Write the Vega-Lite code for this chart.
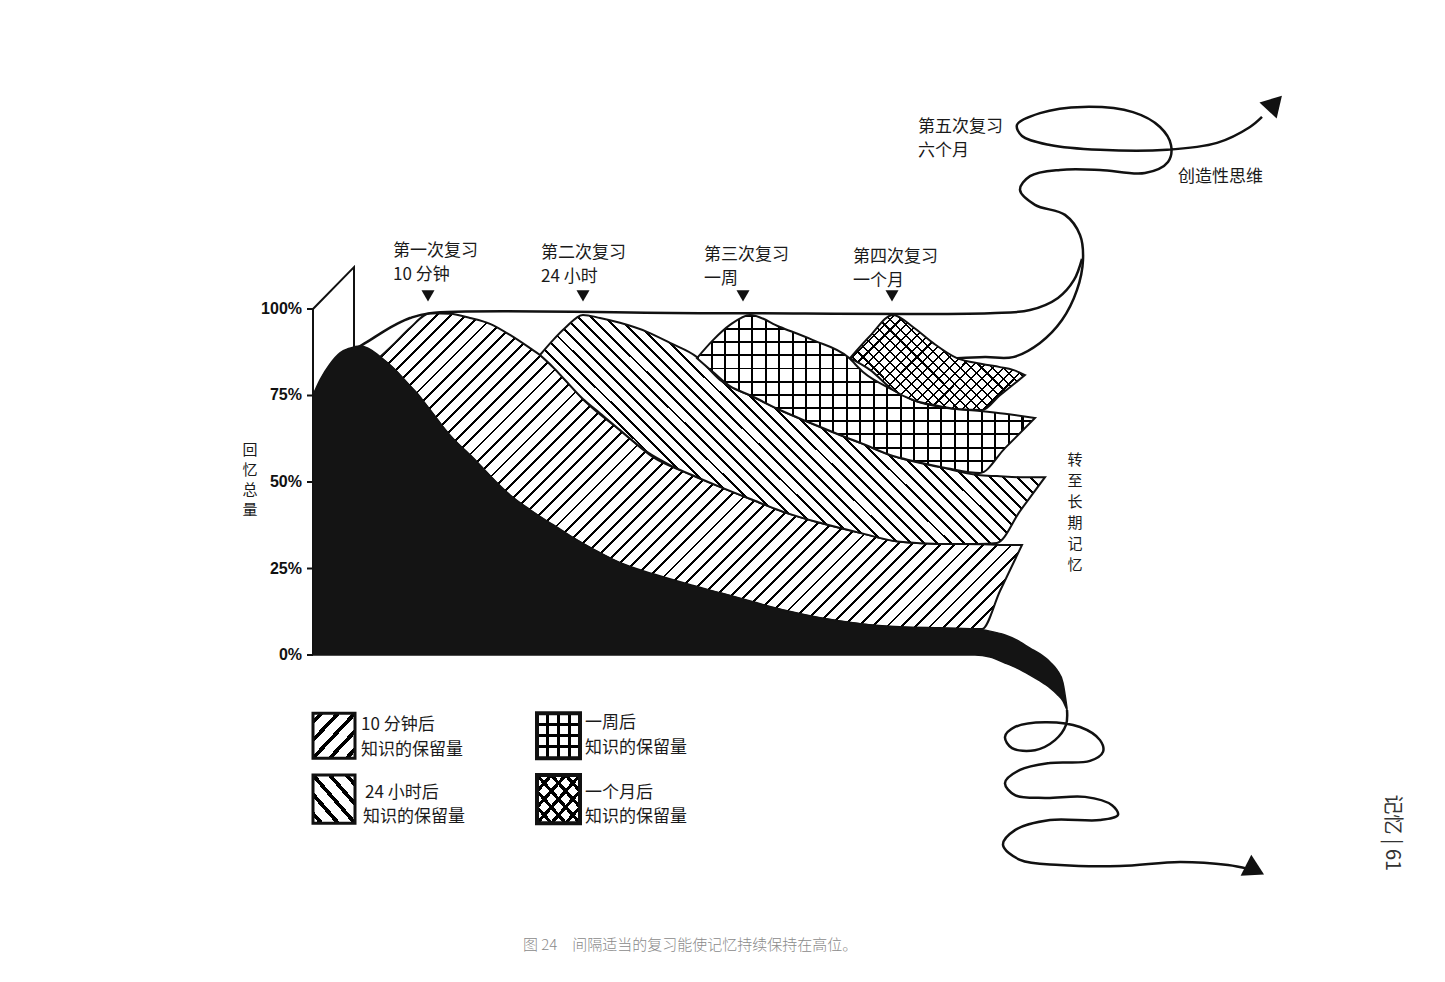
{
"$schema":"https://vega.github.io/schema/vega-lite/v6.json",
"width":1445,"height":982,
"autosize":{"type":"fit","contains":"padding"},
"padding":0,
"background":"#ffffff",
"config":{"view":{"stroke":null},"text":{"font":"Noto Sans CJK SC","color":"#1a1a1a"}},
"datasets":{
"black":[{"x":313,"y":75.1,"y2":0},{"x":320,"y":79.5,"y2":0},{"x":330,"y":84.1,"y2":0},{"x":340,"y":87.3,"y2":0},{"x":350,"y":88.7,"y2":0},{"x":360,"y":89.3,"y2":0},{"x":368,"y":88.7,"y2":0},{"x":377,"y":87.0,"y2":0},{"x":385,"y":85.0,"y2":0},{"x":395,"y":82.4,"y2":0},{"x":405,"y":79.2,"y2":0},{"x":417,"y":75.7,"y2":0},{"x":430,"y":70.8,"y2":0},{"x":443,"y":65.9,"y2":0},{"x":460,"y":60.4,"y2":0},{"x":477,"y":55.8,"y2":0},{"x":495,"y":50.3,"y2":0},{"x":507,"y":46.8,"y2":0},{"x":520,"y":43.9,"y2":0},{"x":545,"y":39.0,"y2":0},{"x":570,"y":34.4,"y2":0},{"x":595,"y":30.3,"y2":0},{"x":620,"y":26.6,"y2":0},{"x":670,"y":21.7,"y2":0},{"x":720,"y":17.9,"y2":0},{"x":770,"y":13.9,"y2":0},{"x":820,"y":10.7,"y2":0},{"x":870,"y":8.7,"y2":0},{"x":920,"y":7.8,"y2":0},{"x":975,"y":7.5,"y2":0},{"x":990,"y":6.9,"y2":-0.6},{"x":1005,"y":5.8,"y2":-2.3},{"x":1017,"y":4.3,"y2":-3.8},{"x":1030,"y":2.0,"y2":-5.8},{"x":1040,"y":0.3,"y2":-7.5},{"x":1050,"y":-2.0,"y2":-9.5},{"x":1057,"y":-4.3,"y2":-11.3},{"x":1063,"y":-8.1,"y2":-13.3},{"x":1067,"y":-15.3,"y2":-15.9}],
"b10":[{"x":380,"y":86.1,"y2":86.1},{"x":395,"y":90.2,"y2":82.4},{"x":410,"y":94.5,"y2":77.7},{"x":430,"y":98.8,"y2":70.8},{"x":450,"y":98.6,"y2":63.3},{"x":470,"y":97.4,"y2":57.8},{"x":490,"y":95.7,"y2":51.7},{"x":510,"y":92.5,"y2":46.2},{"x":530,"y":88.7,"y2":41.9},{"x":540,"y":86.7,"y2":39.9},{"x":553,"y":83.2,"y2":37.6},{"x":570,"y":78.0,"y2":34.4},{"x":587,"y":72.8,"y2":31.5},{"x":620,"y":65.0,"y2":26.6},{"x":653,"y":57.2,"y2":23.4},{"x":687,"y":52.6,"y2":20.5},{"x":720,"y":48.6,"y2":17.9},{"x":753,"y":44.8,"y2":15.3},{"x":787,"y":41.0,"y2":12.7},{"x":820,"y":38.2,"y2":10.7},{"x":860,"y":35.3,"y2":9.0},{"x":900,"y":32.7,"y2":8.1},{"x":940,"y":32.1,"y2":7.8},{"x":982,"y":32.0,"y2":7.5},{"x":1000,"y":31.8,"y2":18.5},{"x":1022,"y":31.8,"y2":31.8}],
"b24":[{"x":540,"y":86.7,"y2":86.7},{"x":553,"y":91.0,"y2":83.2},{"x":565,"y":94.5,"y2":79.5},{"x":583,"y":98.3,"y2":74.0},{"x":600,"y":97.4,"y2":69.9},{"x":620,"y":96.0,"y2":65.0},{"x":647,"y":93.4,"y2":58.7},{"x":670,"y":90.2,"y2":54.9},{"x":697,"y":86.1,"y2":51.4},{"x":720,"y":79.5,"y2":48.6},{"x":753,"y":74.6,"y2":44.8},{"x":787,"y":69.9,"y2":41.0},{"x":820,"y":65.9,"y2":38.2},{"x":860,"y":61.3,"y2":35.3},{"x":900,"y":56.9,"y2":32.7},{"x":940,"y":54.3,"y2":32.1},{"x":978,"y":52.0,"y2":32.1},{"x":997,"y":51.7,"y2":32.4},{"x":1020,"y":51.4,"y2":41.6},{"x":1045,"y":51.4,"y2":51.4}],
"b1w":[{"x":697,"y":85.8,"y2":85.8},{"x":713,"y":91.0,"y2":81.8},{"x":730,"y":95.4,"y2":77.7},{"x":750,"y":98.3,"y2":75.1},{"x":780,"y":94.8,"y2":70.8},{"x":813,"y":91.0,"y2":66.8},{"x":848,"y":86.1,"y2":62.7},{"x":863,"y":81.8,"y2":61.0},{"x":893,"y":76.6,"y2":57.5},{"x":913,"y":73.7,"y2":56.1},{"x":947,"y":71.4,"y2":54.0},{"x":980,"y":70.5,"y2":52.6},{"x":1005,"y":69.7,"y2":59.8},{"x":1035,"y":68.5,"y2":68.5}],
"b1m":[{"x":850,"y":85.8,"y2":85.8},{"x":870,"y":92.2,"y2":82.4},{"x":893,"y":98.3,"y2":76.6},{"x":913,"y":94.8,"y2":73.7},{"x":933,"y":90.2,"y2":72.3},{"x":957,"y":85.8,"y2":71.1},{"x":982,"y":84.1,"y2":70.8},{"x":1000,"y":83.2,"y2":75.1},{"x":1013,"y":82.4,"y2":78.1},{"x":1025,"y":80.9,"y2":80.9}],
"paths":[
{"s":"box","i":1,"x":313,"y":75.1},{"s":"box","i":2,"x":313,"y":100},{"s":"box","i":3,"x":354,"y":112.1},{"s":"box","i":4,"x":354,"y":89.0},
{"s":"env","i":1,"x":357,"y":88.7},{"s":"env","i":2,"x":370,"y":91.0},{"s":"env","i":3,"x":383,"y":93.4},{"s":"env","i":4,"x":397,"y":95.7},{"s":"env","i":5,"x":410,"y":97.4},{"s":"env","i":6,"x":430,"y":98.8},{"s":"env","i":7,"x":700,"y":98.8},{"s":"env","i":8,"x":990,"y":98.8},{"s":"env","i":9,"x":1030,"y":99.7},{"s":"env","i":10,"x":1058,"y":103.2},{"s":"env","i":11,"x":1074,"y":108.4},{"s":"env","i":12,"x":1082,"y":114.5},
{"s":"up","i":1,"x":957,"y":85.8},{"s":"up","i":2,"x":985,"y":86.1},{"s":"up","i":3,"x":1013,"y":86.1},{"s":"up","i":4,"x":1040,"y":90.2},{"s":"up","i":5,"x":1062,"y":96.8},{"s":"up","i":6,"x":1077,"y":105.5},{"s":"up","i":7,"x":1083,"y":114.2},{"s":"up","i":8,"x":1080,"y":121.4},{"s":"up","i":9,"x":1065,"y":127.2},{"s":"up","i":10,"x":1035,"y":130.1},{"s":"up","i":11,"x":1020,"y":134.4},{"s":"up","i":12,"x":1030,"y":138.4},{"s":"up","i":13,"x":1060,"y":140.2},{"s":"up","i":14,"x":1100,"y":140.2},{"s":"up","i":15,"x":1145,"y":139.3},{"s":"up","i":16,"x":1168,"y":142.5},{"s":"up","i":17,"x":1171,"y":147.4},{"s":"up","i":18,"x":1160,"y":152.6},{"s":"up","i":19,"x":1133,"y":156.9},{"s":"up","i":20,"x":1083,"y":158.4},{"s":"up","i":21,"x":1040,"y":156.6},{"s":"up","i":22,"x":1017,"y":153.2},{"s":"up","i":23,"x":1022,"y":150.0},{"s":"up","i":24,"x":1050,"y":147.4},{"s":"up","i":25,"x":1100,"y":146.0},{"s":"up","i":26,"x":1167,"y":146.0},{"s":"up","i":27,"x":1217,"y":148.0},{"s":"up","i":28,"x":1250,"y":152.6},{"s":"up","i":29,"x":1262,"y":155.5},
{"s":"down","i":1,"x":1067,"y":-15.9},{"s":"down","i":2,"x":1066,"y":-20.2},{"s":"down","i":3,"x":1055,"y":-24.6},{"s":"down","i":4,"x":1035,"y":-27.5},{"s":"down","i":5,"x":1012,"y":-26.9},{"s":"down","i":6,"x":1005,"y":-23.7},{"s":"down","i":7,"x":1015,"y":-20.8},{"s":"down","i":8,"x":1045,"y":-19.4},{"s":"down","i":9,"x":1080,"y":-20.8},{"s":"down","i":10,"x":1100,"y":-24.6},{"s":"down","i":11,"x":1103,"y":-28.0},{"s":"down","i":12,"x":1090,"y":-30.6},{"s":"down","i":13,"x":1050,"y":-31.2},{"s":"down","i":14,"x":1020,"y":-33.2},{"s":"down","i":15,"x":1005,"y":-37.0},{"s":"down","i":16,"x":1015,"y":-40.5},{"s":"down","i":17,"x":1045,"y":-41.3},{"s":"down","i":18,"x":1085,"y":-41.0},{"s":"down","i":19,"x":1112,"y":-43.4},{"s":"down","i":20,"x":1118,"y":-46.2},{"s":"down","i":21,"x":1100,"y":-47.7},{"s":"down","i":22,"x":1050,"y":-47.7},{"s":"down","i":23,"x":1015,"y":-50.6},{"s":"down","i":24,"x":1003,"y":-54.9},{"s":"down","i":25,"x":1020,"y":-59.2},{"s":"down","i":26,"x":1060,"y":-60.7},{"s":"down","i":27,"x":1120,"y":-61.0},{"s":"down","i":28,"x":1180,"y":-59.8},{"s":"down","i":29,"x":1228,"y":-60.7},{"s":"down","i":30,"x":1248,"y":-61.8}],
"heads":[{"x":1275,"y":159.5,"a":43},{"x":1255,"y":-62.1,"a":117}],
"markers":[{"x":428,"y":103.8},{"x":583,"y":103.8},{"x":743,"y":103.8},{"x":892,"y":103.8}],
"labels":[{"x":393,"y":116.8,"t":"第一次复习"},{"x":393,"y":109.8,"t":"10 分钟"},{"x":541,"y":116.2,"t":"第二次复习"},{"x":541,"y":109.2,"t":"24 小时"},{"x":704,"y":115.6,"t":"第三次复习"},{"x":704,"y":108.7,"t":"一周"},{"x":853,"y":115.0,"t":"第四次复习"},{"x":853,"y":108.1,"t":"一个月"},{"x":918,"y":152.6,"t":"第五次复习"},{"x":918,"y":145.7,"t":"六个月"},{"x":1178,"y":138.1,"t":"创造性思维"},{"x":361,"y":-20.2,"t":"10 分钟后"},{"x":361,"y":-27.5,"t":"知识的保留量"},{"x":365,"y":-39.9,"t":"24 小时后"},{"x":363,"y":-46.8,"t":"知识的保留量"},{"x":585,"y":-19.7,"t":"一周后"},{"x":585,"y":-26.9,"t":"知识的保留量"},{"x":585,"y":-39.9,"t":"一个月后"},{"x":585,"y":-46.8,"t":"知识的保留量"}],
"ticks":[{"x":307,"x2":313,"y":0},{"x":307,"x2":313,"y":25},{"x":307,"x2":313,"y":50},{"x":307,"x2":313,"y":75},{"x":307,"x2":313,"y":100}],
"ticklabels":[{"x":302,"y":0,"t":"0%"},{"x":302,"y":25,"t":"25%"},{"x":302,"y":50,"t":"50%"},{"x":302,"y":75,"t":"75%"},{"x":302,"y":100,"t":"100%"}]
},
"encoding":{
"x":{"field":"x","type":"quantitative","scale":{"domain":[0,1445],"nice":false,"zero":false},"axis":null},
"y":{"field":"y","type":"quantitative","scale":{"domain":[-94.5,189.3],"nice":false,"zero":false},"axis":null}
},
"layer":[
{"data":{"name":"b10"},"mark":{"type":"area","interpolate":"monotone","stroke":"#111","strokeWidth":2,"fill":{"gradient":"linear","x1":0,"y1":0,"x2":1.201,"y2":0.591,"stops":[
{"offset":0,"color":"#000"},{"offset":0.003,"color":"#000"},{"offset":0.003,"color":"#fff"},{"offset":0.015,"color":"#fff"},
{"offset":0.015,"color":"#000"},{"offset":0.018,"color":"#000"},{"offset":0.018,"color":"#fff"},{"offset":0.03,"color":"#fff"},
{"offset":0.03,"color":"#000"},{"offset":0.033,"color":"#000"},{"offset":0.033,"color":"#fff"},{"offset":0.045,"color":"#fff"},
{"offset":0.045,"color":"#000"},{"offset":0.048,"color":"#000"},{"offset":0.048,"color":"#fff"},{"offset":0.06,"color":"#fff"},
{"offset":0.06,"color":"#000"},{"offset":0.063,"color":"#000"},{"offset":0.063,"color":"#fff"},{"offset":0.075,"color":"#fff"},
{"offset":0.075,"color":"#000"},{"offset":0.078,"color":"#000"},{"offset":0.078,"color":"#fff"},{"offset":0.09,"color":"#fff"},
{"offset":0.09,"color":"#000"},{"offset":0.093,"color":"#000"},{"offset":0.093,"color":"#fff"},{"offset":0.105,"color":"#fff"},
{"offset":0.105,"color":"#000"},{"offset":0.108,"color":"#000"},{"offset":0.108,"color":"#fff"},{"offset":0.12,"color":"#fff"},
{"offset":0.12,"color":"#000"},{"offset":0.123,"color":"#000"},{"offset":0.123,"color":"#fff"},{"offset":0.135,"color":"#fff"},
{"offset":0.135,"color":"#000"},{"offset":0.138,"color":"#000"},{"offset":0.138,"color":"#fff"},{"offset":0.15,"color":"#fff"},
{"offset":0.15,"color":"#000"},{"offset":0.153,"color":"#000"},{"offset":0.153,"color":"#fff"},{"offset":0.165,"color":"#fff"},
{"offset":0.165,"color":"#000"},{"offset":0.168,"color":"#000"},{"offset":0.168,"color":"#fff"},{"offset":0.18,"color":"#fff"},
{"offset":0.18,"color":"#000"},{"offset":0.183,"color":"#000"},{"offset":0.183,"color":"#fff"},{"offset":0.195,"color":"#fff"},
{"offset":0.195,"color":"#000"},{"offset":0.198,"color":"#000"},{"offset":0.198,"color":"#fff"},{"offset":0.21,"color":"#fff"},
{"offset":0.21,"color":"#000"},{"offset":0.213,"color":"#000"},{"offset":0.213,"color":"#fff"},{"offset":0.225,"color":"#fff"},
{"offset":0.225,"color":"#000"},{"offset":0.228,"color":"#000"},{"offset":0.228,"color":"#fff"},{"offset":0.24,"color":"#fff"},
{"offset":0.24,"color":"#000"},{"offset":0.243,"color":"#000"},{"offset":0.243,"color":"#fff"},{"offset":0.255,"color":"#fff"},
{"offset":0.255,"color":"#000"},{"offset":0.258,"color":"#000"},{"offset":0.258,"color":"#fff"},{"offset":0.27,"color":"#fff"},
{"offset":0.27,"color":"#000"},{"offset":0.273,"color":"#000"},{"offset":0.273,"color":"#fff"},{"offset":0.285,"color":"#fff"},
{"offset":0.285,"color":"#000"},{"offset":0.288,"color":"#000"},{"offset":0.288,"color":"#fff"},{"offset":0.3,"color":"#fff"},
{"offset":0.3,"color":"#000"},{"offset":0.303,"color":"#000"},{"offset":0.303,"color":"#fff"},{"offset":0.315,"color":"#fff"},
{"offset":0.315,"color":"#000"},{"offset":0.318,"color":"#000"},{"offset":0.318,"color":"#fff"},{"offset":0.33,"color":"#fff"},
{"offset":0.33,"color":"#000"},{"offset":0.333,"color":"#000"},{"offset":0.333,"color":"#fff"},{"offset":0.345,"color":"#fff"},
{"offset":0.345,"color":"#000"},{"offset":0.348,"color":"#000"},{"offset":0.348,"color":"#fff"},{"offset":0.36,"color":"#fff"},
{"offset":0.36,"color":"#000"},{"offset":0.363,"color":"#000"},{"offset":0.363,"color":"#fff"},{"offset":0.375,"color":"#fff"},
{"offset":0.375,"color":"#000"},{"offset":0.378,"color":"#000"},{"offset":0.378,"color":"#fff"},{"offset":0.39,"color":"#fff"},
{"offset":0.39,"color":"#000"},{"offset":0.393,"color":"#000"},{"offset":0.393,"color":"#fff"},{"offset":0.405,"color":"#fff"},
{"offset":0.405,"color":"#000"},{"offset":0.408,"color":"#000"},{"offset":0.408,"color":"#fff"},{"offset":0.42,"color":"#fff"},
{"offset":0.42,"color":"#000"},{"offset":0.423,"color":"#000"},{"offset":0.423,"color":"#fff"},{"offset":0.435,"color":"#fff"},
{"offset":0.435,"color":"#000"},{"offset":0.438,"color":"#000"},{"offset":0.438,"color":"#fff"},{"offset":0.45,"color":"#fff"},
{"offset":0.45,"color":"#000"},{"offset":0.453,"color":"#000"},{"offset":0.453,"color":"#fff"},{"offset":0.465,"color":"#fff"},
{"offset":0.465,"color":"#000"},{"offset":0.468,"color":"#000"},{"offset":0.468,"color":"#fff"},{"offset":0.48,"color":"#fff"},
{"offset":0.48,"color":"#000"},{"offset":0.483,"color":"#000"},{"offset":0.483,"color":"#fff"},{"offset":0.495,"color":"#fff"},
{"offset":0.495,"color":"#000"},{"offset":0.498,"color":"#000"},{"offset":0.498,"color":"#fff"},{"offset":0.51,"color":"#fff"},
{"offset":0.51,"color":"#000"},{"offset":0.513,"color":"#000"},{"offset":0.513,"color":"#fff"},{"offset":0.525,"color":"#fff"},
{"offset":0.525,"color":"#000"},{"offset":0.528,"color":"#000"},{"offset":0.528,"color":"#fff"},{"offset":0.54,"color":"#fff"},
{"offset":0.54,"color":"#000"},{"offset":0.543,"color":"#000"},{"offset":0.543,"color":"#fff"},{"offset":0.555,"color":"#fff"},
{"offset":0.555,"color":"#000"},{"offset":0.558,"color":"#000"},{"offset":0.558,"color":"#fff"},{"offset":0.57,"color":"#fff"},
{"offset":0.57,"color":"#000"},{"offset":0.573,"color":"#000"},{"offset":0.573,"color":"#fff"},{"offset":0.585,"color":"#fff"},
{"offset":0.585,"color":"#000"},{"offset":0.588,"color":"#000"},{"offset":0.588,"color":"#fff"},{"offset":0.6,"color":"#fff"},
{"offset":0.6,"color":"#000"},{"offset":0.603,"color":"#000"},{"offset":0.603,"color":"#fff"},{"offset":0.615,"color":"#fff"},
{"offset":0.615,"color":"#000"},{"offset":0.618,"color":"#000"},{"offset":0.618,"color":"#fff"},{"offset":0.63,"color":"#fff"},
{"offset":0.63,"color":"#000"},{"offset":0.633,"color":"#000"},{"offset":0.633,"color":"#fff"},{"offset":0.645,"color":"#fff"},
{"offset":0.645,"color":"#000"},{"offset":0.648,"color":"#000"},{"offset":0.648,"color":"#fff"},{"offset":0.66,"color":"#fff"},
{"offset":0.66,"color":"#000"},{"offset":0.663,"color":"#000"},{"offset":0.663,"color":"#fff"},{"offset":0.675,"color":"#fff"},
{"offset":0.675,"color":"#000"},{"offset":0.678,"color":"#000"},{"offset":0.678,"color":"#fff"},{"offset":0.69,"color":"#fff"},
{"offset":0.69,"color":"#000"},{"offset":0.693,"color":"#000"},{"offset":0.693,"color":"#fff"},{"offset":0.705,"color":"#fff"},
{"offset":0.705,"color":"#000"},{"offset":0.708,"color":"#000"},{"offset":0.708,"color":"#fff"},{"offset":0.72,"color":"#fff"},
{"offset":0.72,"color":"#000"},{"offset":0.723,"color":"#000"},{"offset":0.723,"color":"#fff"},{"offset":0.735,"color":"#fff"},
{"offset":0.735,"color":"#000"},{"offset":0.738,"color":"#000"},{"offset":0.738,"color":"#fff"},{"offset":0.75,"color":"#fff"},
{"offset":0.75,"color":"#000"},{"offset":0.753,"color":"#000"},{"offset":0.753,"color":"#fff"},{"offset":0.765,"color":"#fff"},
{"offset":0.765,"color":"#000"},{"offset":0.768,"color":"#000"},{"offset":0.768,"color":"#fff"},{"offset":0.78,"color":"#fff"},
{"offset":0.78,"color":"#000"},{"offset":0.783,"color":"#000"},{"offset":0.783,"color":"#fff"},{"offset":0.795,"color":"#fff"},
{"offset":0.795,"color":"#000"},{"offset":0.798,"color":"#000"},{"offset":0.798,"color":"#fff"},{"offset":0.81,"color":"#fff"},
{"offset":0.81,"color":"#000"},{"offset":0.813,"color":"#000"},{"offset":0.813,"color":"#fff"},{"offset":0.825,"color":"#fff"},
{"offset":0.825,"color":"#000"},{"offset":0.828,"color":"#000"},{"offset":0.828,"color":"#fff"},{"offset":0.84,"color":"#fff"},
{"offset":0.84,"color":"#000"},{"offset":0.843,"color":"#000"},{"offset":0.843,"color":"#fff"},{"offset":0.855,"color":"#fff"},
{"offset":0.855,"color":"#000"},{"offset":0.858,"color":"#000"},{"offset":0.858,"color":"#fff"},{"offset":0.87,"color":"#fff"},
{"offset":0.87,"color":"#000"},{"offset":0.873,"color":"#000"},{"offset":0.873,"color":"#fff"},{"offset":0.885,"color":"#fff"},
{"offset":0.885,"color":"#000"},{"offset":0.888,"color":"#000"},{"offset":0.888,"color":"#fff"},{"offset":0.9,"color":"#fff"},
{"offset":0.9,"color":"#000"},{"offset":0.903,"color":"#000"},{"offset":0.903,"color":"#fff"},{"offset":0.915,"color":"#fff"},
{"offset":0.915,"color":"#000"},{"offset":0.918,"color":"#000"},{"offset":0.918,"color":"#fff"},{"offset":0.93,"color":"#fff"},
{"offset":0.93,"color":"#000"},{"offset":0.933,"color":"#000"},{"offset":0.933,"color":"#fff"},{"offset":0.945,"color":"#fff"},
{"offset":0.945,"color":"#000"},{"offset":0.948,"color":"#000"},{"offset":0.948,"color":"#fff"},{"offset":0.96,"color":"#fff"},
{"offset":0.96,"color":"#000"},{"offset":0.963,"color":"#000"},{"offset":0.963,"color":"#fff"},{"offset":0.975,"color":"#fff"},
{"offset":0.975,"color":"#000"},{"offset":0.978,"color":"#000"},{"offset":0.978,"color":"#fff"},{"offset":0.99,"color":"#fff"},
{"offset":0.99,"color":"#000"},{"offset":0.993,"color":"#000"},{"offset":0.993,"color":"#fff"},{"offset":1,"color":"#fff"}]}},
"encoding":{"y2":{"field":"y2"}}},
{"data":{"name":"b24"},"mark":{"type":"area","interpolate":"monotone","stroke":"#111","strokeWidth":2,"fill":{"gradient":"linear","x1":0,"y1":1,"x2":1.205,"y2":0.451,"stops":[
{"offset":0,"color":"#000"},{"offset":0.004,"color":"#000"},{"offset":0.004,"color":"#fff"},{"offset":0.018,"color":"#fff"},
{"offset":0.018,"color":"#000"},{"offset":0.022,"color":"#000"},{"offset":0.022,"color":"#fff"},{"offset":0.036,"color":"#fff"},
{"offset":0.036,"color":"#000"},{"offset":0.04,"color":"#000"},{"offset":0.04,"color":"#fff"},{"offset":0.054,"color":"#fff"},
{"offset":0.054,"color":"#000"},{"offset":0.058,"color":"#000"},{"offset":0.058,"color":"#fff"},{"offset":0.072,"color":"#fff"},
{"offset":0.072,"color":"#000"},{"offset":0.076,"color":"#000"},{"offset":0.076,"color":"#fff"},{"offset":0.09,"color":"#fff"},
{"offset":0.09,"color":"#000"},{"offset":0.094,"color":"#000"},{"offset":0.094,"color":"#fff"},{"offset":0.108,"color":"#fff"},
{"offset":0.108,"color":"#000"},{"offset":0.112,"color":"#000"},{"offset":0.112,"color":"#fff"},{"offset":0.126,"color":"#fff"},
{"offset":0.126,"color":"#000"},{"offset":0.13,"color":"#000"},{"offset":0.13,"color":"#fff"},{"offset":0.144,"color":"#fff"},
{"offset":0.144,"color":"#000"},{"offset":0.148,"color":"#000"},{"offset":0.148,"color":"#fff"},{"offset":0.162,"color":"#fff"},
{"offset":0.162,"color":"#000"},{"offset":0.166,"color":"#000"},{"offset":0.166,"color":"#fff"},{"offset":0.18,"color":"#fff"},
{"offset":0.18,"color":"#000"},{"offset":0.184,"color":"#000"},{"offset":0.184,"color":"#fff"},{"offset":0.198,"color":"#fff"},
{"offset":0.198,"color":"#000"},{"offset":0.202,"color":"#000"},{"offset":0.202,"color":"#fff"},{"offset":0.216,"color":"#fff"},
{"offset":0.216,"color":"#000"},{"offset":0.22,"color":"#000"},{"offset":0.22,"color":"#fff"},{"offset":0.234,"color":"#fff"},
{"offset":0.234,"color":"#000"},{"offset":0.238,"color":"#000"},{"offset":0.238,"color":"#fff"},{"offset":0.252,"color":"#fff"},
{"offset":0.252,"color":"#000"},{"offset":0.256,"color":"#000"},{"offset":0.256,"color":"#fff"},{"offset":0.27,"color":"#fff"},
{"offset":0.27,"color":"#000"},{"offset":0.274,"color":"#000"},{"offset":0.274,"color":"#fff"},{"offset":0.288,"color":"#fff"},
{"offset":0.288,"color":"#000"},{"offset":0.292,"color":"#000"},{"offset":0.292,"color":"#fff"},{"offset":0.306,"color":"#fff"},
{"offset":0.306,"color":"#000"},{"offset":0.31,"color":"#000"},{"offset":0.31,"color":"#fff"},{"offset":0.324,"color":"#fff"},
{"offset":0.324,"color":"#000"},{"offset":0.328,"color":"#000"},{"offset":0.328,"color":"#fff"},{"offset":0.342,"color":"#fff"},
{"offset":0.342,"color":"#000"},{"offset":0.346,"color":"#000"},{"offset":0.346,"color":"#fff"},{"offset":0.36,"color":"#fff"},
{"offset":0.36,"color":"#000"},{"offset":0.364,"color":"#000"},{"offset":0.364,"color":"#fff"},{"offset":0.378,"color":"#fff"},
{"offset":0.378,"color":"#000"},{"offset":0.382,"color":"#000"},{"offset":0.382,"color":"#fff"},{"offset":0.396,"color":"#fff"},
{"offset":0.396,"color":"#000"},{"offset":0.4,"color":"#000"},{"offset":0.4,"color":"#fff"},{"offset":0.414,"color":"#fff"},
{"offset":0.414,"color":"#000"},{"offset":0.418,"color":"#000"},{"offset":0.418,"color":"#fff"},{"offset":0.432,"color":"#fff"},
{"offset":0.432,"color":"#000"},{"offset":0.436,"color":"#000"},{"offset":0.436,"color":"#fff"},{"offset":0.45,"color":"#fff"},
{"offset":0.45,"color":"#000"},{"offset":0.454,"color":"#000"},{"offset":0.454,"color":"#fff"},{"offset":0.468,"color":"#fff"},
{"offset":0.468,"color":"#000"},{"offset":0.472,"color":"#000"},{"offset":0.472,"color":"#fff"},{"offset":0.486,"color":"#fff"},
{"offset":0.486,"color":"#000"},{"offset":0.49,"color":"#000"},{"offset":0.49,"color":"#fff"},{"offset":0.504,"color":"#fff"},
{"offset":0.504,"color":"#000"},{"offset":0.508,"color":"#000"},{"offset":0.508,"color":"#fff"},{"offset":0.522,"color":"#fff"},
{"offset":0.522,"color":"#000"},{"offset":0.526,"color":"#000"},{"offset":0.526,"color":"#fff"},{"offset":0.54,"color":"#fff"},
{"offset":0.54,"color":"#000"},{"offset":0.544,"color":"#000"},{"offset":0.544,"color":"#fff"},{"offset":0.558,"color":"#fff"},
{"offset":0.558,"color":"#000"},{"offset":0.562,"color":"#000"},{"offset":0.562,"color":"#fff"},{"offset":0.576,"color":"#fff"},
{"offset":0.576,"color":"#000"},{"offset":0.58,"color":"#000"},{"offset":0.58,"color":"#fff"},{"offset":0.594,"color":"#fff"},
{"offset":0.594,"color":"#000"},{"offset":0.598,"color":"#000"},{"offset":0.598,"color":"#fff"},{"offset":0.612,"color":"#fff"},
{"offset":0.612,"color":"#000"},{"offset":0.616,"color":"#000"},{"offset":0.616,"color":"#fff"},{"offset":0.63,"color":"#fff"},
{"offset":0.63,"color":"#000"},{"offset":0.634,"color":"#000"},{"offset":0.634,"color":"#fff"},{"offset":0.648,"color":"#fff"},
{"offset":0.648,"color":"#000"},{"offset":0.652,"color":"#000"},{"offset":0.652,"color":"#fff"},{"offset":0.666,"color":"#fff"},
{"offset":0.666,"color":"#000"},{"offset":0.67,"color":"#000"},{"offset":0.67,"color":"#fff"},{"offset":0.684,"color":"#fff"},
{"offset":0.684,"color":"#000"},{"offset":0.688,"color":"#000"},{"offset":0.688,"color":"#fff"},{"offset":0.702,"color":"#fff"},
{"offset":0.702,"color":"#000"},{"offset":0.706,"color":"#000"},{"offset":0.706,"color":"#fff"},{"offset":0.72,"color":"#fff"},
{"offset":0.72,"color":"#000"},{"offset":0.724,"color":"#000"},{"offset":0.724,"color":"#fff"},{"offset":0.738,"color":"#fff"},
{"offset":0.738,"color":"#000"},{"offset":0.742,"color":"#000"},{"offset":0.742,"color":"#fff"},{"offset":0.756,"color":"#fff"},
{"offset":0.756,"color":"#000"},{"offset":0.76,"color":"#000"},{"offset":0.76,"color":"#fff"},{"offset":0.774,"color":"#fff"},
{"offset":0.774,"color":"#000"},{"offset":0.778,"color":"#000"},{"offset":0.778,"color":"#fff"},{"offset":0.792,"color":"#fff"},
{"offset":0.792,"color":"#000"},{"offset":0.796,"color":"#000"},{"offset":0.796,"color":"#fff"},{"offset":0.81,"color":"#fff"},
{"offset":0.81,"color":"#000"},{"offset":0.814,"color":"#000"},{"offset":0.814,"color":"#fff"},{"offset":0.828,"color":"#fff"},
{"offset":0.828,"color":"#000"},{"offset":0.832,"color":"#000"},{"offset":0.832,"color":"#fff"},{"offset":0.846,"color":"#fff"},
{"offset":0.846,"color":"#000"},{"offset":0.85,"color":"#000"},{"offset":0.85,"color":"#fff"},{"offset":0.864,"color":"#fff"},
{"offset":0.864,"color":"#000"},{"offset":0.868,"color":"#000"},{"offset":0.868,"color":"#fff"},{"offset":0.882,"color":"#fff"},
{"offset":0.882,"color":"#000"},{"offset":0.886,"color":"#000"},{"offset":0.886,"color":"#fff"},{"offset":0.9,"color":"#fff"},
{"offset":0.9,"color":"#000"},{"offset":0.904,"color":"#000"},{"offset":0.904,"color":"#fff"},{"offset":0.918,"color":"#fff"},
{"offset":0.918,"color":"#000"},{"offset":0.922,"color":"#000"},{"offset":0.922,"color":"#fff"},{"offset":0.936,"color":"#fff"},
{"offset":0.936,"color":"#000"},{"offset":0.94,"color":"#000"},{"offset":0.94,"color":"#fff"},{"offset":0.954,"color":"#fff"},
{"offset":0.954,"color":"#000"},{"offset":0.958,"color":"#000"},{"offset":0.958,"color":"#fff"},{"offset":0.972,"color":"#fff"},
{"offset":0.972,"color":"#000"},{"offset":0.976,"color":"#000"},{"offset":0.976,"color":"#fff"},{"offset":0.99,"color":"#fff"},
{"offset":0.99,"color":"#000"},{"offset":0.994,"color":"#000"},{"offset":0.994,"color":"#fff"},{"offset":1,"color":"#fff"}]}},
"encoding":{"y2":{"field":"y2"}}},
{"data":{"name":"b1w"},"mark":{"type":"area","interpolate":"monotone","fill":{"gradient":"linear","x1":0,"y1":0,"x2":0,"y2":1,"stops":[
{"offset":0,"color":"#000"},{"offset":0.012,"color":"#000"},{"offset":0.012,"color":"#fff"},{"offset":0.0833,"color":"#fff"},
{"offset":0.0833,"color":"#000"},{"offset":0.0953,"color":"#000"},{"offset":0.0953,"color":"#fff"},{"offset":0.1667,"color":"#fff"},
{"offset":0.1667,"color":"#000"},{"offset":0.1787,"color":"#000"},{"offset":0.1787,"color":"#fff"},{"offset":0.25,"color":"#fff"},
{"offset":0.25,"color":"#000"},{"offset":0.262,"color":"#000"},{"offset":0.262,"color":"#fff"},{"offset":0.3333,"color":"#fff"},
{"offset":0.3333,"color":"#000"},{"offset":0.3453,"color":"#000"},{"offset":0.3453,"color":"#fff"},{"offset":0.4167,"color":"#fff"},
{"offset":0.4167,"color":"#000"},{"offset":0.4287,"color":"#000"},{"offset":0.4287,"color":"#fff"},{"offset":0.5,"color":"#fff"},
{"offset":0.5,"color":"#000"},{"offset":0.512,"color":"#000"},{"offset":0.512,"color":"#fff"},{"offset":0.5833,"color":"#fff"},
{"offset":0.5833,"color":"#000"},{"offset":0.5953,"color":"#000"},{"offset":0.5953,"color":"#fff"},{"offset":0.6667,"color":"#fff"},
{"offset":0.6667,"color":"#000"},{"offset":0.6787,"color":"#000"},{"offset":0.6787,"color":"#fff"},{"offset":0.75,"color":"#fff"},
{"offset":0.75,"color":"#000"},{"offset":0.762,"color":"#000"},{"offset":0.762,"color":"#fff"},{"offset":0.8333,"color":"#fff"},
{"offset":0.8333,"color":"#000"},{"offset":0.8453,"color":"#000"},{"offset":0.8453,"color":"#fff"},{"offset":0.9167,"color":"#fff"},
{"offset":0.9167,"color":"#000"},{"offset":0.9287,"color":"#000"},{"offset":0.9287,"color":"#fff"},{"offset":1,"color":"#fff"}]}},
"encoding":{"y2":{"field":"y2"}}},
{"data":{"name":"b1w"},"mark":{"type":"area","interpolate":"monotone","stroke":"#111","strokeWidth":2,"fill":{"gradient":"linear","x1":0,"y1":0,"x2":1,"y2":0,"stops":[
{"offset":0,"color":"#000"},{"offset":0.006,"color":"#000"},{"offset":0.006,"color":"rgba(0,0,0,0)"},{"offset":0.04,"color":"rgba(0,0,0,0)"},
{"offset":0.04,"color":"#000"},{"offset":0.046,"color":"#000"},{"offset":0.046,"color":"rgba(0,0,0,0)"},{"offset":0.08,"color":"rgba(0,0,0,0)"},
{"offset":0.08,"color":"#000"},{"offset":0.086,"color":"#000"},{"offset":0.086,"color":"rgba(0,0,0,0)"},{"offset":0.12,"color":"rgba(0,0,0,0)"},
{"offset":0.12,"color":"#000"},{"offset":0.126,"color":"#000"},{"offset":0.126,"color":"rgba(0,0,0,0)"},{"offset":0.16,"color":"rgba(0,0,0,0)"},
{"offset":0.16,"color":"#000"},{"offset":0.166,"color":"#000"},{"offset":0.166,"color":"rgba(0,0,0,0)"},{"offset":0.2,"color":"rgba(0,0,0,0)"},
{"offset":0.2,"color":"#000"},{"offset":0.206,"color":"#000"},{"offset":0.206,"color":"rgba(0,0,0,0)"},{"offset":0.24,"color":"rgba(0,0,0,0)"},
{"offset":0.24,"color":"#000"},{"offset":0.246,"color":"#000"},{"offset":0.246,"color":"rgba(0,0,0,0)"},{"offset":0.28,"color":"rgba(0,0,0,0)"},
{"offset":0.28,"color":"#000"},{"offset":0.286,"color":"#000"},{"offset":0.286,"color":"rgba(0,0,0,0)"},{"offset":0.32,"color":"rgba(0,0,0,0)"},
{"offset":0.32,"color":"#000"},{"offset":0.326,"color":"#000"},{"offset":0.326,"color":"rgba(0,0,0,0)"},{"offset":0.36,"color":"rgba(0,0,0,0)"},
{"offset":0.36,"color":"#000"},{"offset":0.366,"color":"#000"},{"offset":0.366,"color":"rgba(0,0,0,0)"},{"offset":0.4,"color":"rgba(0,0,0,0)"},
{"offset":0.4,"color":"#000"},{"offset":0.406,"color":"#000"},{"offset":0.406,"color":"rgba(0,0,0,0)"},{"offset":0.44,"color":"rgba(0,0,0,0)"},
{"offset":0.44,"color":"#000"},{"offset":0.446,"color":"#000"},{"offset":0.446,"color":"rgba(0,0,0,0)"},{"offset":0.48,"color":"rgba(0,0,0,0)"},
{"offset":0.48,"color":"#000"},{"offset":0.486,"color":"#000"},{"offset":0.486,"color":"rgba(0,0,0,0)"},{"offset":0.52,"color":"rgba(0,0,0,0)"},
{"offset":0.52,"color":"#000"},{"offset":0.526,"color":"#000"},{"offset":0.526,"color":"rgba(0,0,0,0)"},{"offset":0.56,"color":"rgba(0,0,0,0)"},
{"offset":0.56,"color":"#000"},{"offset":0.566,"color":"#000"},{"offset":0.566,"color":"rgba(0,0,0,0)"},{"offset":0.6,"color":"rgba(0,0,0,0)"},
{"offset":0.6,"color":"#000"},{"offset":0.606,"color":"#000"},{"offset":0.606,"color":"rgba(0,0,0,0)"},{"offset":0.64,"color":"rgba(0,0,0,0)"},
{"offset":0.64,"color":"#000"},{"offset":0.646,"color":"#000"},{"offset":0.646,"color":"rgba(0,0,0,0)"},{"offset":0.68,"color":"rgba(0,0,0,0)"},
{"offset":0.68,"color":"#000"},{"offset":0.686,"color":"#000"},{"offset":0.686,"color":"rgba(0,0,0,0)"},{"offset":0.72,"color":"rgba(0,0,0,0)"},
{"offset":0.72,"color":"#000"},{"offset":0.726,"color":"#000"},{"offset":0.726,"color":"rgba(0,0,0,0)"},{"offset":0.76,"color":"rgba(0,0,0,0)"},
{"offset":0.76,"color":"#000"},{"offset":0.766,"color":"#000"},{"offset":0.766,"color":"rgba(0,0,0,0)"},{"offset":0.8,"color":"rgba(0,0,0,0)"},
{"offset":0.8,"color":"#000"},{"offset":0.806,"color":"#000"},{"offset":0.806,"color":"rgba(0,0,0,0)"},{"offset":0.84,"color":"rgba(0,0,0,0)"},
{"offset":0.84,"color":"#000"},{"offset":0.846,"color":"#000"},{"offset":0.846,"color":"rgba(0,0,0,0)"},{"offset":0.88,"color":"rgba(0,0,0,0)"},
{"offset":0.88,"color":"#000"},{"offset":0.886,"color":"#000"},{"offset":0.886,"color":"rgba(0,0,0,0)"},{"offset":0.92,"color":"rgba(0,0,0,0)"},
{"offset":0.92,"color":"#000"},{"offset":0.926,"color":"#000"},{"offset":0.926,"color":"rgba(0,0,0,0)"},{"offset":0.96,"color":"rgba(0,0,0,0)"},
{"offset":0.96,"color":"#000"},{"offset":0.966,"color":"#000"},{"offset":0.966,"color":"rgba(0,0,0,0)"},{"offset":1,"color":"rgba(0,0,0,0)"}]}},
"encoding":{"y2":{"field":"y2"}}},
{"data":{"name":"b1m"},"mark":{"type":"area","interpolate":"monotone","fill":{"gradient":"linear","x1":0,"y1":0,"x2":1.192,"y2":0.647,"stops":[
{"offset":0,"color":"#000"},{"offset":0.008,"color":"#000"},{"offset":0.008,"color":"#fff"},{"offset":0.04,"color":"#fff"},
{"offset":0.04,"color":"#000"},{"offset":0.048,"color":"#000"},{"offset":0.048,"color":"#fff"},{"offset":0.08,"color":"#fff"},
{"offset":0.08,"color":"#000"},{"offset":0.088,"color":"#000"},{"offset":0.088,"color":"#fff"},{"offset":0.12,"color":"#fff"},
{"offset":0.12,"color":"#000"},{"offset":0.128,"color":"#000"},{"offset":0.128,"color":"#fff"},{"offset":0.16,"color":"#fff"},
{"offset":0.16,"color":"#000"},{"offset":0.168,"color":"#000"},{"offset":0.168,"color":"#fff"},{"offset":0.2,"color":"#fff"},
{"offset":0.2,"color":"#000"},{"offset":0.208,"color":"#000"},{"offset":0.208,"color":"#fff"},{"offset":0.24,"color":"#fff"},
{"offset":0.24,"color":"#000"},{"offset":0.248,"color":"#000"},{"offset":0.248,"color":"#fff"},{"offset":0.28,"color":"#fff"},
{"offset":0.28,"color":"#000"},{"offset":0.288,"color":"#000"},{"offset":0.288,"color":"#fff"},{"offset":0.32,"color":"#fff"},
{"offset":0.32,"color":"#000"},{"offset":0.328,"color":"#000"},{"offset":0.328,"color":"#fff"},{"offset":0.36,"color":"#fff"},
{"offset":0.36,"color":"#000"},{"offset":0.368,"color":"#000"},{"offset":0.368,"color":"#fff"},{"offset":0.4,"color":"#fff"},
{"offset":0.4,"color":"#000"},{"offset":0.408,"color":"#000"},{"offset":0.408,"color":"#fff"},{"offset":0.44,"color":"#fff"},
{"offset":0.44,"color":"#000"},{"offset":0.448,"color":"#000"},{"offset":0.448,"color":"#fff"},{"offset":0.48,"color":"#fff"},
{"offset":0.48,"color":"#000"},{"offset":0.488,"color":"#000"},{"offset":0.488,"color":"#fff"},{"offset":0.52,"color":"#fff"},
{"offset":0.52,"color":"#000"},{"offset":0.528,"color":"#000"},{"offset":0.528,"color":"#fff"},{"offset":0.56,"color":"#fff"},
{"offset":0.56,"color":"#000"},{"offset":0.568,"color":"#000"},{"offset":0.568,"color":"#fff"},{"offset":0.6,"color":"#fff"},
{"offset":0.6,"color":"#000"},{"offset":0.608,"color":"#000"},{"offset":0.608,"color":"#fff"},{"offset":0.64,"color":"#fff"},
{"offset":0.64,"color":"#000"},{"offset":0.648,"color":"#000"},{"offset":0.648,"color":"#fff"},{"offset":0.68,"color":"#fff"},
{"offset":0.68,"color":"#000"},{"offset":0.688,"color":"#000"},{"offset":0.688,"color":"#fff"},{"offset":0.72,"color":"#fff"},
{"offset":0.72,"color":"#000"},{"offset":0.728,"color":"#000"},{"offset":0.728,"color":"#fff"},{"offset":0.76,"color":"#fff"},
{"offset":0.76,"color":"#000"},{"offset":0.768,"color":"#000"},{"offset":0.768,"color":"#fff"},{"offset":0.8,"color":"#fff"},
{"offset":0.8,"color":"#000"},{"offset":0.808,"color":"#000"},{"offset":0.808,"color":"#fff"},{"offset":0.84,"color":"#fff"},
{"offset":0.84,"color":"#000"},{"offset":0.848,"color":"#000"},{"offset":0.848,"color":"#fff"},{"offset":0.88,"color":"#fff"},
{"offset":0.88,"color":"#000"},{"offset":0.888,"color":"#000"},{"offset":0.888,"color":"#fff"},{"offset":0.92,"color":"#fff"},
{"offset":0.92,"color":"#000"},{"offset":0.928,"color":"#000"},{"offset":0.928,"color":"#fff"},{"offset":0.96,"color":"#fff"},
{"offset":0.96,"color":"#000"},{"offset":0.968,"color":"#000"},{"offset":0.968,"color":"#fff"},{"offset":1,"color":"#fff"}]}},
"encoding":{"y2":{"field":"y2"}}},
{"data":{"name":"b1m"},"mark":{"type":"area","interpolate":"monotone","stroke":"#111","strokeWidth":2,"fill":{"gradient":"linear","x1":0,"y1":1,"x2":1.192,"y2":0.353,"stops":[
{"offset":0,"color":"#000"},{"offset":0.008,"color":"#000"},{"offset":0.008,"color":"rgba(0,0,0,0)"},{"offset":0.04,"color":"rgba(0,0,0,0)"},
{"offset":0.04,"color":"#000"},{"offset":0.048,"color":"#000"},{"offset":0.048,"color":"rgba(0,0,0,0)"},{"offset":0.08,"color":"rgba(0,0,0,0)"},
{"offset":0.08,"color":"#000"},{"offset":0.088,"color":"#000"},{"offset":0.088,"color":"rgba(0,0,0,0)"},{"offset":0.12,"color":"rgba(0,0,0,0)"},
{"offset":0.12,"color":"#000"},{"offset":0.128,"color":"#000"},{"offset":0.128,"color":"rgba(0,0,0,0)"},{"offset":0.16,"color":"rgba(0,0,0,0)"},
{"offset":0.16,"color":"#000"},{"offset":0.168,"color":"#000"},{"offset":0.168,"color":"rgba(0,0,0,0)"},{"offset":0.2,"color":"rgba(0,0,0,0)"},
{"offset":0.2,"color":"#000"},{"offset":0.208,"color":"#000"},{"offset":0.208,"color":"rgba(0,0,0,0)"},{"offset":0.24,"color":"rgba(0,0,0,0)"},
{"offset":0.24,"color":"#000"},{"offset":0.248,"color":"#000"},{"offset":0.248,"color":"rgba(0,0,0,0)"},{"offset":0.28,"color":"rgba(0,0,0,0)"},
{"offset":0.28,"color":"#000"},{"offset":0.288,"color":"#000"},{"offset":0.288,"color":"rgba(0,0,0,0)"},{"offset":0.32,"color":"rgba(0,0,0,0)"},
{"offset":0.32,"color":"#000"},{"offset":0.328,"color":"#000"},{"offset":0.328,"color":"rgba(0,0,0,0)"},{"offset":0.36,"color":"rgba(0,0,0,0)"},
{"offset":0.36,"color":"#000"},{"offset":0.368,"color":"#000"},{"offset":0.368,"color":"rgba(0,0,0,0)"},{"offset":0.4,"color":"rgba(0,0,0,0)"},
{"offset":0.4,"color":"#000"},{"offset":0.408,"color":"#000"},{"offset":0.408,"color":"rgba(0,0,0,0)"},{"offset":0.44,"color":"rgba(0,0,0,0)"},
{"offset":0.44,"color":"#000"},{"offset":0.448,"color":"#000"},{"offset":0.448,"color":"rgba(0,0,0,0)"},{"offset":0.48,"color":"rgba(0,0,0,0)"},
{"offset":0.48,"color":"#000"},{"offset":0.488,"color":"#000"},{"offset":0.488,"color":"rgba(0,0,0,0)"},{"offset":0.52,"color":"rgba(0,0,0,0)"},
{"offset":0.52,"color":"#000"},{"offset":0.528,"color":"#000"},{"offset":0.528,"color":"rgba(0,0,0,0)"},{"offset":0.56,"color":"rgba(0,0,0,0)"},
{"offset":0.56,"color":"#000"},{"offset":0.568,"color":"#000"},{"offset":0.568,"color":"rgba(0,0,0,0)"},{"offset":0.6,"color":"rgba(0,0,0,0)"},
{"offset":0.6,"color":"#000"},{"offset":0.608,"color":"#000"},{"offset":0.608,"color":"rgba(0,0,0,0)"},{"offset":0.64,"color":"rgba(0,0,0,0)"},
{"offset":0.64,"color":"#000"},{"offset":0.648,"color":"#000"},{"offset":0.648,"color":"rgba(0,0,0,0)"},{"offset":0.68,"color":"rgba(0,0,0,0)"},
{"offset":0.68,"color":"#000"},{"offset":0.688,"color":"#000"},{"offset":0.688,"color":"rgba(0,0,0,0)"},{"offset":0.72,"color":"rgba(0,0,0,0)"},
{"offset":0.72,"color":"#000"},{"offset":0.728,"color":"#000"},{"offset":0.728,"color":"rgba(0,0,0,0)"},{"offset":0.76,"color":"rgba(0,0,0,0)"},
{"offset":0.76,"color":"#000"},{"offset":0.768,"color":"#000"},{"offset":0.768,"color":"rgba(0,0,0,0)"},{"offset":0.8,"color":"rgba(0,0,0,0)"},
{"offset":0.8,"color":"#000"},{"offset":0.808,"color":"#000"},{"offset":0.808,"color":"rgba(0,0,0,0)"},{"offset":0.84,"color":"rgba(0,0,0,0)"},
{"offset":0.84,"color":"#000"},{"offset":0.848,"color":"#000"},{"offset":0.848,"color":"rgba(0,0,0,0)"},{"offset":0.88,"color":"rgba(0,0,0,0)"},
{"offset":0.88,"color":"#000"},{"offset":0.888,"color":"#000"},{"offset":0.888,"color":"rgba(0,0,0,0)"},{"offset":0.92,"color":"rgba(0,0,0,0)"},
{"offset":0.92,"color":"#000"},{"offset":0.928,"color":"#000"},{"offset":0.928,"color":"rgba(0,0,0,0)"},{"offset":0.96,"color":"rgba(0,0,0,0)"},
{"offset":0.96,"color":"#000"},{"offset":0.968,"color":"#000"},{"offset":0.968,"color":"rgba(0,0,0,0)"},{"offset":1,"color":"rgba(0,0,0,0)"}]}},
"encoding":{"y2":{"field":"y2"}}},
{"data":{"name":"black"},"mark":{"type":"area","interpolate":"monotone","fill":"#141414","stroke":"#141414","strokeWidth":1.5},"encoding":{"y2":{"field":"y2"}}},
{"data":{"name":"paths"},"transform":[{"filter":"datum.s === 'box'"}],"mark":{"type":"line","interpolate":"linear","stroke":"#111","strokeWidth":2},"encoding":{"order":{"field":"i","type":"quantitative"}}},
{"data":{"name":"paths"},"transform":[{"filter":"datum.s !== 'box'"}],"mark":{"type":"line","interpolate":"catmull-rom","stroke":"#111","strokeWidth":2.5},"encoding":{"detail":{"field":"s","type":"nominal"},"order":{"field":"i","type":"quantitative"}}},
{"data":{"name":"heads"},"mark":{"type":"point","shape":"triangle-up","filled":true,"size":550,"color":"#111","opacity":1},"encoding":{"angle":{"field":"a","type":"quantitative","scale":null}}},
{"data":{"name":"markers"},"mark":{"type":"point","shape":"triangle-down","filled":true,"size":170,"color":"#111","opacity":1}},
{"data":{"values":[{"x":313,"y":0,"y2":100}]},"mark":{"type":"rule","stroke":"#111","strokeWidth":2},"encoding":{"y2":{"field":"y2"}}},
{"data":{"name":"ticks"},"mark":{"type":"rule","stroke":"#111","strokeWidth":2},"encoding":{"x2":{"field":"x2"}}},
{"data":{"name":"ticklabels"},"mark":{"type":"text","font":"Liberation Sans","fontWeight":"bold","fontSize":16,"align":"right","baseline":"middle","color":"#111"},"encoding":{"text":{"field":"t"}}},
{"data":{"name":"labels"},"mark":{"type":"text","fontSize":17,"align":"left","baseline":"middle"},"encoding":{"text":{"field":"t"}}},
{"data":{"values":[{"x":250,"y":59.2,"t":"回\n忆\n总\n量"}]},"mark":{"type":"text","fontSize":15,"align":"center","baseline":"middle","lineBreak":"\n","lineHeight":20},"encoding":{"text":{"field":"t"}}},
{"data":{"values":[{"x":1075,"y":56.4,"t":"转\n至\n长\n期\n记\n忆"}]},"mark":{"type":"text","fontSize":15,"align":"center","baseline":"middle","lineBreak":"\n","lineHeight":21},"encoding":{"text":{"field":"t"}}},
{"data":{"values":[{"x":313,"y":-16.8,"x2":355,"y2":-29.8}]},"mark":{"type":"rect","stroke":"#111","strokeWidth":3,"fill":{"gradient":"linear","x1":0,"y1":0,"x2":1,"y2":1,"stops":[
{"offset":0,"color":"#fff"},{"offset":0.07,"color":"#fff"},{"offset":0.07,"color":"#000"},{"offset":0.13,"color":"#000"},{"offset":0.13,"color":"#fff"},{"offset":0.27,"color":"#fff"},{"offset":0.27,"color":"#000"},{"offset":0.33,"color":"#000"},{"offset":0.33,"color":"#fff"},{"offset":0.47,"color":"#fff"},{"offset":0.47,"color":"#000"},{"offset":0.53,"color":"#000"},{"offset":0.53,"color":"#fff"},{"offset":0.67,"color":"#fff"},{"offset":0.67,"color":"#000"},{"offset":0.73,"color":"#000"},{"offset":0.73,"color":"#fff"},{"offset":0.87,"color":"#fff"},{"offset":0.87,"color":"#000"},{"offset":0.93,"color":"#000"},{"offset":0.93,"color":"#fff"},{"offset":1,"color":"#fff"}]}},"encoding":{"x2":{"field":"x2"},"y2":{"field":"y2"}}},
{"data":{"values":[{"x":313,"y":-34.7,"x2":355,"y2":-48.6}]},"mark":{"type":"rect","stroke":"#111","strokeWidth":3,"fill":{"gradient":"linear","x1":0,"y1":1,"x2":1,"y2":0,"stops":[
{"offset":0,"color":"#fff"},{"offset":0.07,"color":"#fff"},{"offset":0.07,"color":"#000"},{"offset":0.13,"color":"#000"},{"offset":0.13,"color":"#fff"},{"offset":0.27,"color":"#fff"},{"offset":0.27,"color":"#000"},{"offset":0.33,"color":"#000"},{"offset":0.33,"color":"#fff"},{"offset":0.47,"color":"#fff"},{"offset":0.47,"color":"#000"},{"offset":0.53,"color":"#000"},{"offset":0.53,"color":"#fff"},{"offset":0.67,"color":"#fff"},{"offset":0.67,"color":"#000"},{"offset":0.73,"color":"#000"},{"offset":0.73,"color":"#fff"},{"offset":0.87,"color":"#fff"},{"offset":0.87,"color":"#000"},{"offset":0.93,"color":"#000"},{"offset":0.93,"color":"#fff"},{"offset":1,"color":"#fff"}]}},"encoding":{"x2":{"field":"x2"},"y2":{"field":"y2"}}},
{"data":{"values":[{"x":537,"y":-16.8,"x2":580,"y2":-29.8}]},"mark":{"type":"rect","fill":{"gradient":"linear","x1":0,"y1":0,"x2":0,"y2":1,"stops":[
{"offset":0,"color":"#fff"},{"offset":0.215,"color":"#fff"},{"offset":0.215,"color":"#000"},{"offset":0.285,"color":"#000"},{"offset":0.285,"color":"#fff"},{"offset":0.465,"color":"#fff"},{"offset":0.465,"color":"#000"},{"offset":0.535,"color":"#000"},{"offset":0.535,"color":"#fff"},{"offset":0.715,"color":"#fff"},{"offset":0.715,"color":"#000"},{"offset":0.785,"color":"#000"},{"offset":0.785,"color":"#fff"},{"offset":1,"color":"#fff"}]}},"encoding":{"x2":{"field":"x2"},"y2":{"field":"y2"}}},
{"data":{"values":[{"x":537,"y":-16.8,"x2":580,"y2":-29.8}]},"mark":{"type":"rect","stroke":"#111","strokeWidth":4,"fill":{"gradient":"linear","x1":0,"y1":0,"x2":1,"y2":0,"stops":[
{"offset":0,"color":"rgba(0,0,0,0)"},{"offset":0.215,"color":"rgba(0,0,0,0)"},{"offset":0.215,"color":"#000"},{"offset":0.285,"color":"#000"},{"offset":0.285,"color":"rgba(0,0,0,0)"},{"offset":0.465,"color":"rgba(0,0,0,0)"},{"offset":0.465,"color":"#000"},{"offset":0.535,"color":"#000"},{"offset":0.535,"color":"rgba(0,0,0,0)"},{"offset":0.715,"color":"rgba(0,0,0,0)"},{"offset":0.715,"color":"#000"},{"offset":0.785,"color":"#000"},{"offset":0.785,"color":"rgba(0,0,0,0)"},{"offset":1,"color":"rgba(0,0,0,0)"}]}},"encoding":{"x2":{"field":"x2"},"y2":{"field":"y2"}}},
{"data":{"values":[{"x":537,"y":-34.7,"x2":580,"y2":-48.6}]},"mark":{"type":"rect","fill":{"gradient":"linear","x1":0,"y1":0,"x2":1,"y2":1,"stops":[
{"offset":0,"color":"#fff"},{"offset":0.142,"color":"#fff"},{"offset":0.142,"color":"#000"},{"offset":0.192,"color":"#000"},{"offset":0.192,"color":"#fff"},{"offset":0.308,"color":"#fff"},{"offset":0.308,"color":"#000"},{"offset":0.358,"color":"#000"},{"offset":0.358,"color":"#fff"},{"offset":0.475,"color":"#fff"},{"offset":0.475,"color":"#000"},{"offset":0.525,"color":"#000"},{"offset":0.525,"color":"#fff"},{"offset":0.642,"color":"#fff"},{"offset":0.642,"color":"#000"},{"offset":0.692,"color":"#000"},{"offset":0.692,"color":"#fff"},{"offset":0.808,"color":"#fff"},{"offset":0.808,"color":"#000"},{"offset":0.858,"color":"#000"},{"offset":0.858,"color":"#fff"},{"offset":1,"color":"#fff"}]}},"encoding":{"x2":{"field":"x2"},"y2":{"field":"y2"}}},
{"data":{"values":[{"x":537,"y":-34.7,"x2":580,"y2":-48.6}]},"mark":{"type":"rect","stroke":"#111","strokeWidth":4,"fill":{"gradient":"linear","x1":0,"y1":1,"x2":1,"y2":0,"stops":[
{"offset":0,"color":"rgba(0,0,0,0)"},{"offset":0.142,"color":"rgba(0,0,0,0)"},{"offset":0.142,"color":"#000"},{"offset":0.192,"color":"#000"},{"offset":0.192,"color":"rgba(0,0,0,0)"},{"offset":0.308,"color":"rgba(0,0,0,0)"},{"offset":0.308,"color":"#000"},{"offset":0.358,"color":"#000"},{"offset":0.358,"color":"rgba(0,0,0,0)"},{"offset":0.475,"color":"rgba(0,0,0,0)"},{"offset":0.475,"color":"#000"},{"offset":0.525,"color":"#000"},{"offset":0.525,"color":"rgba(0,0,0,0)"},{"offset":0.642,"color":"rgba(0,0,0,0)"},{"offset":0.642,"color":"#000"},{"offset":0.692,"color":"#000"},{"offset":0.692,"color":"rgba(0,0,0,0)"},{"offset":0.808,"color":"rgba(0,0,0,0)"},{"offset":0.808,"color":"#000"},{"offset":0.858,"color":"#000"},{"offset":0.858,"color":"rgba(0,0,0,0)"},{"offset":1,"color":"rgba(0,0,0,0)"}]}},"encoding":{"x2":{"field":"x2"},"y2":{"field":"y2"}}},
{"data":{"values":[{"x":523,"y":-83.8,"t":"图 24　间隔适当的复习能使记忆持续保持在高位。"}]},"mark":{"type":"text","fontSize":15,"align":"left","baseline":"middle","color":"#8a8a8a","fontWeight":300},"encoding":{"text":{"field":"t"}}},
{"data":{"values":[{"x":1392,"y":-51.4,"t":"记忆  |  61"}]},"mark":{"type":"text","fontSize":20,"align":"center","baseline":"middle","angle":90,"color":"#333"},"encoding":{"text":{"field":"t"}}}
]
}
